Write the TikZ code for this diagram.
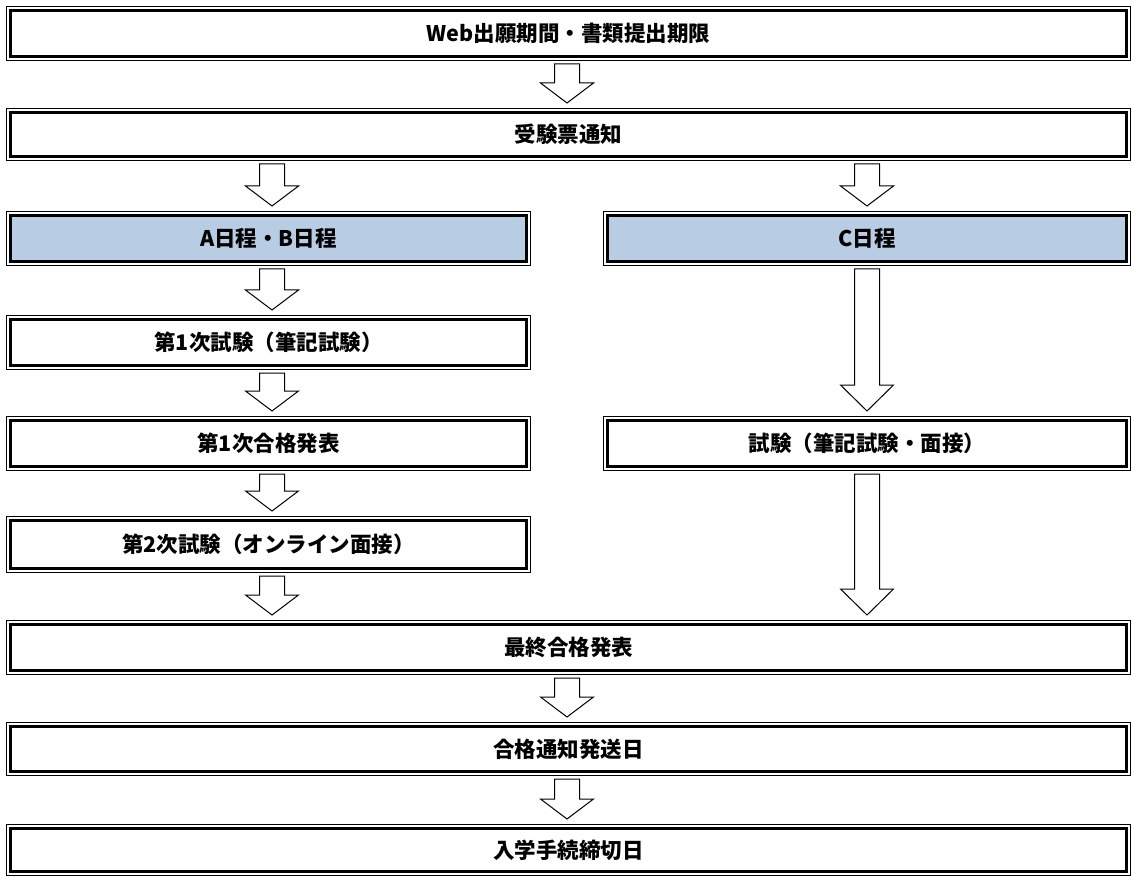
\documentclass[tikz,border=0pt]{standalone}
\usepackage{fontspec}
\newfontfamily\jpfont{Noto Sans CJK JP}
\usetikzlibrary{calc}
\definecolor{boxblue}{HTML}{B8CCE4}
\tikzset{
  flowbox/.style={draw=black, line width=3pt, inner sep=0pt, outer sep=0pt,
    font=\jpfont\bfseries\fontsize{21.5}{24}\selectfont, text=black},
  wide/.style={minimum width=1116.4pt},
  halfl/.style={minimum width=516.4pt},
  halfr/.style={minimum width=519.4pt},
  blue/.style={fill=boxblue},
  outerline/.style={draw=black, line width=1.3pt},
  barrow/.style={draw=black, line width=1pt, fill=white, line join=miter}
}
\newcommand\blockarr[4]{%
  \draw[barrow] let \p1=(#1.south), \p2=(#2.north) in
    ({#3pt-12.5pt},{\y1-7.3pt}) -- ({#3pt+12.5pt},{\y1-7.3pt})
    -- ({#3pt+12.5pt},{\y2+9.3pt+#4pt}) -- ({#3pt+26.5pt},{\y2+9.3pt+#4pt})
    -- ({#3pt},{\y2+9.3pt}) -- ({#3pt-26.5pt},{\y2+9.3pt+#4pt})
    -- ({#3pt-12.5pt},{\y2+9.3pt+#4pt}) -- cycle;}
\begin{document}
\begin{tikzpicture}[x=1pt,y=-1pt]
\useasboundingbox (0,0) rectangle (1132,877);
\node[flowbox, wide, minimum height=46.4pt] (b1) at (568.5,33.5) {Web出願期間・書類提出期限};
\node[flowbox, wide, minimum height=44.4pt] (b2) at (568.5,134.5) {受験票通知};
\node[flowbox, halfl, blue, minimum height=46.4pt] (bA) at (268.5,238.5) {A日程・B日程};
\node[flowbox, halfr, blue, minimum height=46.4pt] (bC) at (867,238.5) {C日程};
\node[flowbox, halfl, minimum height=46.4pt] (b3) at (268.5,342.5) {第1次試験（筆記試験）};
\node[flowbox, halfl, minimum height=46.4pt] (b4) at (268.5,443.5) {第1次合格発表};
\node[flowbox, halfr, minimum height=46.4pt] (bT) at (867,443.5) {試験（筆記試験・面接）};
\node[flowbox, halfl, minimum height=48.4pt] (b5) at (268.5,544.5) {第2次試験（オンライン面接）};
\node[flowbox, wide, minimum height=46.4pt] (b6) at (568.5,647.5) {最終合格発表};
\node[flowbox, wide, minimum height=45.4pt] (b7) at (568.5,749) {合格通知発送日};
\node[flowbox, wide, minimum height=43.4pt] (b8) at (568.5,850) {入学手続締切日};
\foreach \n in {b1,b2,bA,bC,b3,b4,bT,b5,b6,b7,b8}
  \draw[outerline] ([shift={(-3.65pt,3.65pt)}]\n.north west) rectangle ([shift={(3.65pt,-3.65pt)}]\n.south east);
\blockarr{b1}{b2}{567}{20}
\blockarr{b2}{bA}{272}{20}
\blockarr{b2}{bC}{867}{20}
\blockarr{bA}{b3}{272}{20}
\blockarr{bC}{bT}{867}{26}
\blockarr{b3}{b4}{272}{20}
\blockarr{b4}{b5}{272}{20}
\blockarr{bT}{b6}{867}{26}
\blockarr{b5}{b6}{272}{20}
\blockarr{b6}{b7}{567}{20}
\blockarr{b7}{b8}{567}{20}
\end{tikzpicture}
\end{document}
